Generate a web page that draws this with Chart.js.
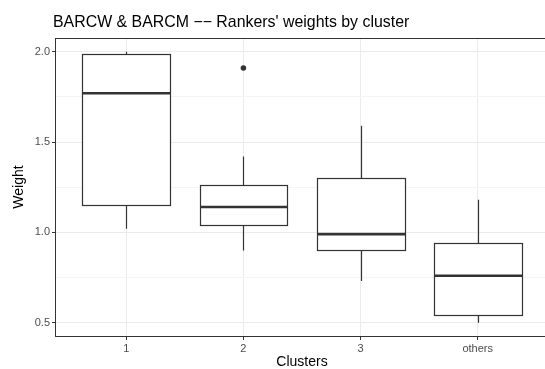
<!DOCTYPE html>
<html>
<head>
<meta charset="utf-8">
<script src="https://cdn.jsdelivr.net/npm/chart.js@4"></script>
<style>
  html, body { margin: 0; padding: 0; background: #fff; overflow: hidden; }
  canvas { display: block; }
</style>
</head>
<body>
<canvas id="chart" width="552" height="369"></canvas>
<script>
const categories = ["1", "2", "3", "others"];
const lowerWhisker = [1.02, 0.90, 0.73, 0.50];
const q1 = [1.15, 1.04, 0.90, 0.54];
const median = [1.77, 1.14, 0.99, 0.76];
const q3 = [1.99, 1.26, 1.30, 0.94];
const upperWhisker = [2.00, 1.42, 1.59, 1.18];
const outlierCluster = [2];
const outlierValue = [1.91];
const yMajor = [0.5, 1.0, 1.5, 2.0];
const yMinor = [0.75, 1.25, 1.75];

const FONT = "'Liberation Sans', Arial, sans-serif";
const INK = "#333333";
const BOX_HALF = 0.375; // ggplot default width 0.75

const snap = (v) => Math.round(v) + 0.5;

// box outline, whiskers and median, all placed through the scales
const boxExtrasPlugin = {
  id: "boxExtras",
  afterDatasetsDraw(chart) {
    const { ctx, scales: { x, y } } = chart;
    ctx.save();
    ctx.strokeStyle = INK;
    categories.forEach((c, i) => {
      const cx = snap(x.getPixelForValue(i + 1));
      const left = snap(x.getPixelForValue(i + 1 - BOX_HALF));
      const right = snap(x.getPixelForValue(i + 1 + BOX_HALF));
      const top = snap(y.getPixelForValue(q3[i]));
      const bottom = snap(y.getPixelForValue(q1[i]));
      ctx.lineWidth = 1.2;
      ctx.strokeRect(left, top, right - left, bottom - top);
      ctx.beginPath();
      ctx.moveTo(cx, top);
      ctx.lineTo(cx, y.getPixelForValue(upperWhisker[i]));
      ctx.moveTo(cx, bottom);
      ctx.lineTo(cx, y.getPixelForValue(lowerWhisker[i]));
      ctx.stroke();
      ctx.lineWidth = 2.6;
      ctx.beginPath();
      const my = y.getPixelForValue(median[i]);
      ctx.moveTo(left, my);
      ctx.lineTo(right, my);
      ctx.stroke();
    });
    ctx.restore();
  },
};

// panel border + plot title
const panelPlugin = {
  id: "panel",
  afterDraw(chart) {
    const { ctx, chartArea: a } = chart;
    ctx.save();
    ctx.strokeStyle = INK;
    ctx.lineWidth = 1;
    ctx.strokeRect(Math.round(a.left) - 0.5, Math.round(a.top) + 0.5, Math.round(a.right - a.left), Math.round(a.bottom - a.top));
    ctx.fillStyle = "#000";
    ctx.font = `15.9px ${FONT}`;
    ctx.textBaseline = "alphabetic";
    ctx.textAlign = "left";
    ctx.fillText("BARCW & BARCM \u2212\u2212 Rankers' weights by cluster", 53, 27);
    ctx.restore();
  },
};

new Chart(document.getElementById("chart"), {
  type: "bar",
  data: {
    datasets: [
      {
        type: "bar",
        data: categories.map((c, i) => ({ x: i + 1, y: [q1[i], q3[i]] })),
        backgroundColor: "#ffffff",
        borderWidth: 0,
        categoryPercentage: BOX_HALF * 2,
        barPercentage: 1,
      },
      {
        type: "scatter",
        data: outlierCluster.map((c, i) => ({ x: c, y: outlierValue[i] })),
        backgroundColor: INK,
        borderColor: INK,
        pointRadius: 2.8,
        borderWidth: 0,
      },
    ],
  },
  options: {
    responsive: false,
    animation: false,
    layout: { padding: { top: 38, left: 0, right: 0, bottom: 0 } },
    plugins: { legend: { display: false }, tooltip: { enabled: false } },
    scales: {
      x: {
        type: "linear",
        min: 0.4,
        max: 4.6,
        offset: false,
        afterBuildTicks: (s) => { s.ticks = categories.map((c, i) => ({ value: i + 1 })); },
        afterFit: (s) => { s.height = 33; },
        ticks: {
          color: "#4D4D4D",
          font: { family: FONT, size: 11 },
          padding: 2,
          maxRotation: 0,
          callback: (v) => categories[v - 1] ?? "",
        },
        grid: { offset: false, color: "#EBEBEB", lineWidth: 1, tickColor: INK, tickLength: 4, tickWidth: 1 },
        border: { display: false },
        title: { display: true, text: "Clusters", color: "#000", font: { family: FONT, size: 14, lineHeight: 1 }, padding: { top: 0, bottom: 0 } },
      },
      y: {
        type: "linear",
        min: 0.426,
        max: 2.076,
        afterBuildTicks: (s) => { s.ticks = [...yMajor, ...yMinor].sort((a, b) => a - b).map((v) => ({ value: v })); },
        afterFit: (s) => { s.width = 56; },
        ticks: {
          color: "#4D4D4D",
          font: { family: FONT, size: 11 },
          padding: 2,
          callback: (v) => (yMajor.includes(v) ? v.toFixed(1) : ""),
        },
        grid: {
          color: (c) => (c.tick && yMajor.includes(c.tick.value) ? "#EBEBEB" : "#F4F4F4"),
          lineWidth: 1,
          tickColor: (c) => (c.tick && yMajor.includes(c.tick.value) ? INK : "rgba(0,0,0,0)"),
          tickLength: 4,
          tickWidth: 1,
        },
        border: { display: false },
        title: { display: true, text: "Weight", color: "#000", font: { family: FONT, size: 14, lineHeight: 1 }, padding: { top: 12, bottom: 0 } },
      },
    },
  },
  plugins: [boxExtrasPlugin, panelPlugin],
});
</script>
</body>
</html>
